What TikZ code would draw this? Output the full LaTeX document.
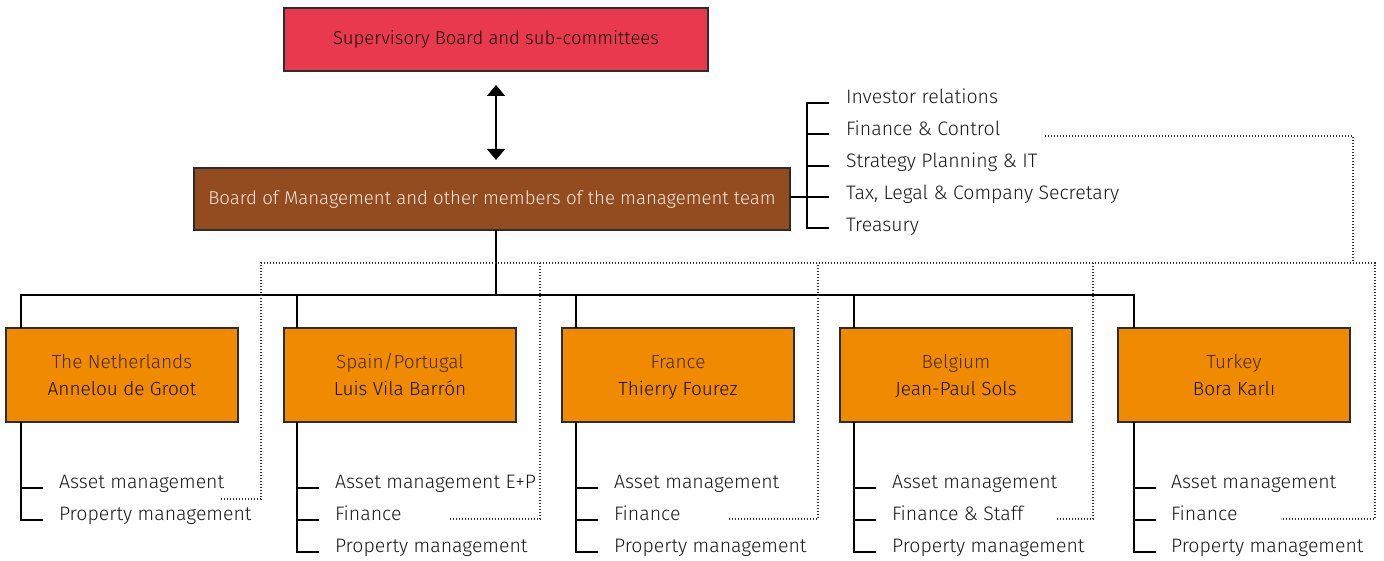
\documentclass[tikz,border=0pt]{standalone}
\usepackage{fontspec}
\setmainfont{Fira Sans}[UprightFont={* Light}]
\usetikzlibrary{arrows.meta}

\definecolor{supred}{RGB}{232,57,79}
\definecolor{mgmtbrown}{RGB}{147,76,32}
\definecolor{unitorange}{RGB}{240,138,0}
\definecolor{boxline}{RGB}{45,45,45}
\definecolor{paletext}{RGB}{245,232,220}
\definecolor{namedark}{RGB}{20,14,6}
\definecolor{unittext}{RGB}{70,42,8}
\definecolor{itemtext}{RGB}{25,25,25}
\definecolor{dotgray}{RGB}{50,50,50}

\tikzset{boardtip/.tip={Triangle[width=18pt,length=11pt]}}
% fixed-height lines so every unit box sets its two baselines alike
\newcommand\unitlines[2]{{\color{unittext}\smash{#1}\rule{0pt}{18pt}}\\{\color{namedark}\smash{#2}\rule[-5pt]{0pt}{5pt}}}

\begin{document}
\begin{tikzpicture}[x=1pt,y=-1pt,
  every node/.style={inner sep=0pt, outer sep=0pt},
  orgbox/.style={draw=boxline, line width=1.2pt, align=center},
  unitbox/.style={orgbox, fill=unitorange, minimum width=232pt, minimum height=94pt,
    font=\fontsize{19}{27}\selectfont},
  item/.style={anchor=base west, text=itemtext, font=\fontsize{19.5}{22}\selectfont},
  conn/.style={line width=1.3pt, black},
  dotline/.style={line width=1.1pt, dotgray, dash pattern=on 1.1pt off 1.9pt}
]
\useasboundingbox (0,0) rectangle (1384,561);

% ---- top level boards ----
\node[orgbox, fill=supred, minimum width=424pt, minimum height=63pt,
      font=\fontsize{18.5}{22}\selectfont, text=namedark] (sup) at (496,39.5)
      {Supervisory Board and sub-committees};
\node[orgbox, fill=mgmtbrown, minimum width=596pt, minimum height=62pt,
      font=\fontsize{18.6}{22}\selectfont, text=paletext] (bom) at (492,199)
      {Board of Management and other members of the management team};

\coordinate (hub) at (496,295);
\draw[conn, line width=1.5pt, {boardtip}-{boardtip}, shorten <=14pt, shorten >=8pt]
  (sup.south -| hub) -- (bom.north -| hub);

% ---- staff departments ----
\node[item] (ir) at (846,104) {Investor relations};
\node[item] (fc) at (846,136) {Finance \& Control};
\node[item] (sp) at (846,168) {Strategy Planning \& IT};
\node[item] (tl) at (846,200) {Tax, Legal \& Company Secretary};
\node[item] (ts) at (846,232) {Treasury};
\coordinate (trunk) at (807,0);
\coordinate (t1) at ([yshift=1pt]trunk |- ir.base);
\coordinate (t2) at ([yshift=2pt]trunk |- fc.base);
\coordinate (t3) at ([yshift=2pt]trunk |- sp.base);
\coordinate (t4) at ([yshift=3pt]trunk |- tl.base);
\coordinate (t5) at ([yshift=4pt]trunk |- ts.base);
\draw[conn] (t1) ++(22,0) -- (t1) -- (t5) -- ++(22,0);
\draw[conn] (t2) -- ++(22,0);
\draw[conn] (t3) -- ++(22,0);
\draw[conn] (bom.east |- t4) -- ++(39,0);

% ---- country units ----
\node[unitbox] (nl) at (122,375) {\unitlines{The Netherlands}{Annelou de Groot}};
\node[unitbox] (es) at (400,375) {\unitlines{Spain/Portugal}{Luis Vila Barrón}};
\node[unitbox] (fr) at (678,375) {\unitlines{France}{Thierry Fourez}};
\node[unitbox] (be) at (956,375) {\unitlines{Belgium}{Jean-Paul Sols}};
\node[unitbox] (tr) at (1234,375) {\unitlines{Turkey}{Bora Karlı}};

\coordinate (s1) at (21,295);
\coordinate (s2) at (297,295);
\coordinate (s3) at (576,295);
\coordinate (s4) at (854,295);
\coordinate (s5) at (1134,295);

\draw[conn] (hub |- bom.south) -- (hub);
\draw[conn] (s1 |- nl.north) -- (s1) -- (s5) -- (s5 |- tr.north);
\draw[conn] (s2) -- (s2 |- es.north);
\draw[conn] (s3) -- (s3 |- fr.north);
\draw[conn] (s4) -- (s4 |- be.north);

% The Netherlands
\node[item] (nl1) at (59,488) {Asset management};
\node[item] (nl2) at (59,520) {Property management};
\draw[conn] (s1 |- nl.south) -- (s1 |- nl2.base) -- ++(22,0);
\draw[conn] (s1 |- nl1.base) -- ++(22,0);

% Spain/Portugal
\node[item] (es1) at (335,488) {Asset management E+P};
\node[item] (es2) at (335,520) {Finance};
\node[item] (es3) at (335,552) {Property management};
\draw[conn] (s2 |- es.south) -- (s2 |- es3.base) -- ++(22,0);
\draw[conn] (s2 |- es1.base) -- ++(22,0);
\draw[conn] (s2 |- es2.base) -- ++(22,0);

% France
\node[item] (fr1) at (614,488) {Asset management};
\node[item] (fr2) at (614,520) {Finance};
\node[item] (fr3) at (614,552) {Property management};
\draw[conn] (s3 |- fr.south) -- (s3 |- fr3.base) -- ++(22,0);
\draw[conn] (s3 |- fr1.base) -- ++(22,0);
\draw[conn] (s3 |- fr2.base) -- ++(22,0);

% Belgium
\node[item] (be1) at (892,488) {Asset management};
\node[item] (be2) at (892,520) {Finance \& Staff};
\node[item] (be3) at (892,552) {Property management};
\draw[conn] (s4 |- be.south) -- (s4 |- be3.base) -- ++(22,0);
\draw[conn] (s4 |- be1.base) -- ++(22,0);
\draw[conn] (s4 |- be2.base) -- ++(22,0);

% Turkey
\node[item] (tr1) at (1171,488) {Asset management};
\node[item] (tr2) at (1171,520) {Finance};
\node[item] (tr3) at (1171,552) {Property management};
\draw[conn] (s5 |- tr.south) -- (s5 |- tr3.base) -- ++(22,0);
\draw[conn] (s5 |- tr1.base) -- ++(22,0);
\draw[conn] (s5 |- tr2.base) -- ++(22,0);

% ---- finance reporting line (dotted) ----
\coordinate (fcend) at (1045,136);
\coordinate (fcturn) at (1353,136);
\draw[dotline] (fcend) -- (fcturn) -- (fcturn |- 0,263);
\coordinate (d1) at (261,263);
\coordinate (d2) at (540,263);
\coordinate (d3) at (818,263);
\coordinate (d4) at (1093,263);
\coordinate (d5) at (1375,263);
\draw[dotline] (221,499) -- (d1 |- 0,499) -- (d1) -- (d5) -- (d5 |- 0,519) -- (1281,519);
\draw[dotline] (450,519) -- (d2 |- 0,519) -- (d2);
\draw[dotline] (729,519) -- (d3 |- 0,519) -- (d3);
\draw[dotline] (1057,519) -- (d4 |- 0,519) -- (d4);
\end{tikzpicture}
\end{document}
